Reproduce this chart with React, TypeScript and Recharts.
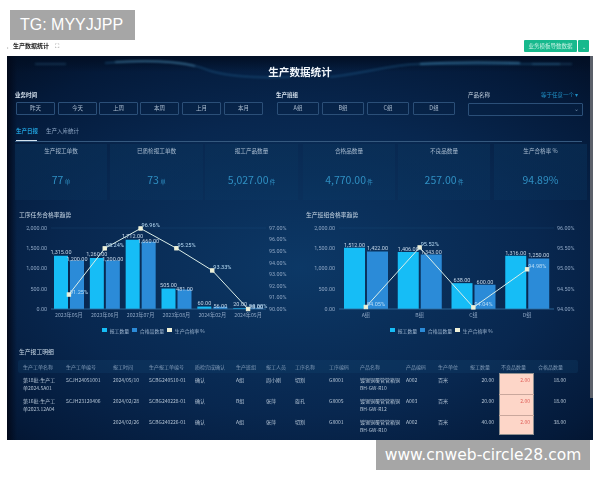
import React from 'react';
import { ComposedChart, Bar, Line, XAxis, YAxis, CartesianGrid, Legend, LabelList } from 'recharts';

const monthCats = ['2023年05月', '2023年06月', '2023年07月', '2023年08月', '2024年02月', '2024年05月'];
const monthReported = [1315, 1260, 1712, 505, 60, 20];
const monthQualified = [1200, 1200, 1660, 481, 56, 18];
const monthRate = [91.25, 95.24, 96.96, 95.25, 93.33, 90.0];

const teamCats = ['A组', 'B组', 'C组', 'D组'];
const teamReported = [1512, 1406, 638, 1316];
const teamQualified = [1422, 1343, 600, 1250];
const teamRate = [94.05, 95.52, 94.04, 94.98];

const leftTicks = [0, 500, 1000, 1500, 2000];
const monthRateTicks = [90, 91, 92, 93, 94, 95, 96, 97];
const teamRateTicks = [94, 94.5, 95, 95.5, 96];

const timeButtons = ['昨天', '今天', '上周', '本周', '上月', '本月'];
const teamButtons = ['A组', 'B组', 'C组', 'D组'];
const kpiTitles = ['生产报工单数', '已质检报工单数', '报工产品数量', '合格品数量', '不良品数量', '生产合格率 %'];
const kpiValues = ['77', '73', '5,027.00', '4,770.00', '257.00', '94.89%'];
const kpiUnits = ['单', '单', '件', '件', '件', ''];
const tableHeaders = ['生产工单名称', '生产工单编号', '报工时间', '生产报工单编号', '质检完成确认', '生产班组', '报工人员', '工序名称', '工序编码', '产品名称', '产品编码', '生产单位', '报工数量', '不良品数量', '合格品数量'];
const tableRow1 = ['第18批-生产工\n单2024.5A01', 'SCJH24051001', '2024/05/10', 'SCBG240510-01', '确认', 'A组', '周小刚', '切割', 'GX001', '镀锡铜覆管管箱铜\nBH-GW-R10', 'A002', '百米', '20.00', '2.00', '18.00'];
const tableRow2 = ['第16批-生产工\n单2023.12A04', 'SCJH23120406', '2024/02/28', 'SCBG240228-01', '确认', 'B组', '张萍', '旋孔', 'GX005', '镀锡铜覆管管箱铜\nBH-GW-R12', 'A003', '百米', '20.00', '2.00', '18.00'];
const tableRow3 = ['', '', '2024/02/26', 'SCBG240226-01', '确认', 'A组', '张萍', '切割', 'GX001', '镀锡铜覆管管箱铜\nBH-GW-R10', 'A002', '百米', '40.00', '2.00', '38.00'];
const tableRows = [tableRow1, tableRow2, tableRow3];

const FONT = '"Noto Sans CJK SC", "Noto Sans", sans-serif';
const money = (v: number) => v.toLocaleString('en-US', { minimumFractionDigits: 2, maximumFractionDigits: 2 });

const colX = [23, 66, 113, 149, 195, 236, 266, 295, 329, 360, 406, 438, 494, 530, 566];
const rowY = [379, 400, 421];

function T({ x, y, size = 6, color = '#b9c9dc', weight = 400, align = 'left', children }: any) {
  const tx = align === 'left' ? '0' : align === 'center' ? '-50%' : '-100%';
  return (
    <div style={{ position: 'absolute', left: x, top: y, transform: `translate(${tx},-50%)`, fontSize: size, color, fontWeight: weight, whiteSpace: 'nowrap', lineHeight: 1, fontFamily: FONT }}>
      {children}
    </div>
  );
}

function Box({ x, y, w, h, style }: any) {
  return <div style={{ position: 'absolute', left: x, top: y, width: w, height: h, boxSizing: 'border-box', ...style }} />;
}

function rateLabel(p: any) {
  return (
    <text x={p.x + 1} y={p.y - 1} fontSize={5.6} fill="#b8dcf5" fontFamily="Roboto, sans-serif">
      {Number(p.value).toFixed(2)}%
    </text>
  );
}

function Dot(p: any) {
  return <rect x={p.cx - 1.7} y={p.cy - 1.7} width={3.4} height={3.4} fill="#eef0d8" stroke="#eef0d8" />;
}

function LegendRow({ payload }: any) {
  return (
    <div style={{ display: 'flex', justifyContent: 'center', alignItems: 'center', height: 8, fontSize: 4.9, fontFamily: FONT, color: '#9fb6d0' }}>
      {(payload || []).map((it: any) => (
        <span key={it.value} style={{ display: 'flex', alignItems: 'center', marginRight: 3 }}>
          <span style={{ width: 4.5, height: 4.5, background: it.color === '#dbeee8' ? '#eef0d8' : it.color, marginRight: 3 }} />
          {it.value}
        </span>
      ))}
    </div>
  );
}

function TrendChart({ data, rateDomain, rateTicks, barSize, left, offsetA, offsetB }: any) {
  const axisTick = { fill: '#8ea6c4', fontSize: 5.4, fontFamily: 'Roboto, sans-serif' };
  return (
    <div style={{ position: 'absolute', left, top: 205 }}>
      <ComposedChart width={290} height={135} data={data} barGap={2} barSize={barSize} margin={{ top: 23, right: 0, bottom: 0, left: 0 }}>
        <CartesianGrid horizontal vertical={false} stroke="#2a5f92" strokeOpacity={0.35} strokeWidth={0.6} />
        <XAxis dataKey="cat" height={17} tickSize={0} tickLine={false} axisLine={{ stroke: '#2f6a9c', strokeWidth: 0.8 }} tick={{ ...axisTick, fontFamily: FONT, fontSize: 5.2 }} interval={0} tickMargin={4} />
        <YAxis yAxisId="l" width={41} domain={[0, 2000]} ticks={leftTicks} tickFormatter={money} tickSize={0} tickLine={false} axisLine={false} tick={axisTick} tickMargin={4} />
        <YAxis yAxisId="r" orientation="right" width={34} domain={rateDomain} ticks={rateTicks} tickFormatter={(v: number) => v.toFixed(2) + '%'} tickSize={0} tickLine={false} axisLine={false} tick={axisTick} tickMargin={3} />
        <Legend verticalAlign="bottom" align="center" height={14} itemSorter={null} content={<LegendRow />} />
        <Bar yAxisId="l" dataKey="reported" name="报工数量" fill="#16bdf6" legendType="square" isAnimationActive={false}>
          <LabelList dataKey="reported" position="top" offset={offsetA} formatter={money} fontSize={5.5} fill="#c4d6e8" fontFamily="Roboto, sans-serif" />
        </Bar>
        <Bar yAxisId="l" dataKey="qualified" name="合格品数量" fill="#2b8bd8" legendType="square" isAnimationActive={false}>
          <LabelList dataKey="qualified" position="top" offset={offsetB} formatter={money} fontSize={5.5} fill="#c4d6e8" fontFamily="Roboto, sans-serif" />
        </Bar>
        <Line yAxisId="r" dataKey="rate" name="生产合格率 %" stroke="#dbeee8" strokeWidth={1} legendType="square" dot={<Dot />} label={rateLabel} isAnimationActive={false} />
      </ComposedChart>
    </div>
  );
}

const monthData = monthCats.map((cat, i) => ({ cat, reported: monthReported[i], qualified: monthQualified[i], rate: monthRate[i] }));
const teamData = teamCats.map((cat, i) => ({ cat, reported: teamReported[i], qualified: teamQualified[i], rate: teamRate[i] }));

const timeX = [16, 58, 99, 140, 182, 224];
const teamX = [277, 322, 367, 413];
const kpiX = [15, 110, 205, 303, 398, 494];
const kpiW = [92, 93, 93, 92, 92, 93];

export default function App() {
  const btn = { border: '0.7px solid #2b4f78', borderRadius: 1, background: 'rgba(8,35,70,0.4)' };
  return (
    <div style={{ position: 'fixed', left: 0, top: 0, width: 600, height: 480, background: '#fff', overflow: 'hidden', fontFamily: FONT }}>
      <div style={{ position: 'absolute', inset: 0, filter: 'blur(0.35px)' }}>
        <T x={7} y={46} size={5} color="#777">‹</T>
        <T x={13} y={46} size={6} color="#222" weight={700}>生产数据统计</T>
        <T x={55} y={46} size={6} color="#777">⛶</T>
        <Box x={524} y={40} w={53} h={12} style={{ background: '#17b98d', borderRadius: 1 }} />
        <Box x={578} y={40} w={11} h={12} style={{ background: '#17b98d', borderRadius: 1 }} />
        <T x={550.5} y={46.5} size={5.5} color="#c8f2e4" align="center">业务模板导数数据</T>
        <T x={583.5} y={46} size={5} color="#fff" align="center">⌄</T>

        <Box x={7} y={56} w={586} h={384} style={{ background: 'radial-gradient(ellipse 75% 70% at 50% 55%, #0c3866 0%, #08274f 55%, #041a3a 85%, #03122a 100%)' }} />
        <Box x={7} y={56} w={586} h={16} style={{ background: 'linear-gradient(180deg,#020f24 0%, rgba(3,18,42,0) 100%)' }} />
        <Box x={7} y={56} w={10} h={384} style={{ background: 'linear-gradient(90deg,#02091a 0%, rgba(3,18,42,0) 100%)' }} />
        <Box x={590} y={56} w={3} h={342} style={{ background: '#5b606a' }} />
        <svg width={600} height={480} style={{ position: 'absolute', left: 0, top: 0, filter: 'blur(0.8px)' }}>
          <path d="M105 63 C 150 60, 185 61, 205 69 C 225 77, 260 78, 290 77" stroke="#2f86bd" strokeWidth={1} fill="none" opacity={0.55} />
          <path d="M115 62 C 150 60, 175 61, 195 66" stroke="#7cc8ef" strokeWidth={1.6} fill="none" opacity={0.35} />
          <path d="M330 77 C 360 74, 395 64, 420 64 L 560 64" stroke="#2f86bd" strokeWidth={1} fill="none" opacity={0.55} />
          <path d="M420 64 C 450 62, 490 62, 520 63" stroke="#5fb8e8" strokeWidth={2.2} fill="none" opacity={0.4} />
          <path d="M35 64 L 66 64" stroke="#59a5d4" strokeWidth={0.7} opacity={0.6} />
          <path d="M532 64 L 572 64" stroke="#59a5d4" strokeWidth={0.7} opacity={0.6} />
        </svg>
        <T x={300} y={72} size={10.6} color="#f1f6fb" weight={700} align="center">生产数据统计</T>

        <T x={15} y={96} size={5.5} color="#d6e2ee" weight={700}>业务时间</T>
        {timeButtons.map((b, i) => (
          <React.Fragment key={b}>
            <Box x={timeX[i]} y={102} w={39} h={13} style={btn} />
            <T x={timeX[i] + 19.5} y={108.5} size={5.5} color="#aebfd2" align="center">{b}</T>
          </React.Fragment>
        ))}
        <T x={276} y={96} size={5.5} color="#d6e2ee" weight={700}>生产班组</T>
        {teamButtons.map((b, i) => (
          <React.Fragment key={b}>
            <Box x={teamX[i]} y={102} w={42} h={13} style={btn} />
            <T x={teamX[i] + 21} y={108.5} size={5.5} color="#aebfd2" align="center">{b}</T>
          </React.Fragment>
        ))}
        <T x={468} y={96} size={5.5} color="#c4d2e0">产品名称</T>
        <T x={541} y={96} size={5.5} color="#1f8ec4">等于任意一个 ▾</T>
        <Box x={468} y={103} w={115} h={13} style={btn} />
        <T x={576} y={109} size={6} color="#6f8aa8" align="center">⌄</T>

        <T x={16} y={132} size={5.5} color="#1f9bd6" weight={700}>生产日报</T>
        <T x={46} y={132} size={5.5} color="#8ea6c4">生产入库统计</T>
        <Box x={15} y={140.5} w={567} h={0.7} style={{ background: '#35597f' }} />
        <Box x={16} y={140} w={21} h={1.3} style={{ background: '#d4e4f0' }} />

        {kpiTitles.map((t, i) => (
          <React.Fragment key={t}>
            <Box x={kpiX[i]} y={144} w={kpiW[i]} h={56} style={{ background: 'linear-gradient(180deg, rgba(10,50,90,0.55), rgba(10,60,105,0.25))' }} />
            <T x={kpiX[i] + kpiW[i] / 2} y={152} size={5.6} color="#a9bcd0" align="center">{t}</T>
            <T x={kpiX[i] + kpiW[i] / 2} y={180} size={10.5} color="#2f8fc2" align="center">
              {kpiValues[i]}
              {kpiUnits[i] ? <span style={{ fontSize: 5.5 }}> {kpiUnits[i]}</span> : null}
            </T>
          </React.Fragment>
        ))}

        <T x={19} y={215} size={5.8} color="#c9d8e6">工序任务合格率趋势</T>
        <T x={306} y={215} size={5.8} color="#c9d8e6">生产班组合格率趋势</T>
        <TrendChart data={monthData} rateDomain={[90, 97]} rateTicks={monthRateTicks} barSize={14} left={10} offsetA={2} offsetB={-1} />
        <TrendChart data={teamData} rateDomain={[94, 96]} rateTicks={teamRateTicks} barSize={21} left={298} offsetA={1} offsetB={1} />

        <T x={19} y={352} size={5.8} color="#c9d8e6">生产报工明细</T>
        <Box x={18} y={360} w={560} h={13} style={{ background: 'rgba(20,70,115,0.25)', borderRadius: 2 }} />
        <Box x={499} y={373} w={35} h={62} style={{ background: '#fdd6c8', border: '0.6px solid #8f8f8f' }} />
        <Box x={499} y={394} w={35} h={0.6} style={{ background: '#c9a79c' }} />
        <Box x={499} y={415} w={35} h={0.6} style={{ background: '#c9a79c' }} />
        {tableHeaders.map((h, c) => (
          <T key={h} x={c >= 12 ? colX[c] - (c === 12 ? 24 : c === 13 ? 29 : 28) : colX[c]} y={366} size={5} color="#7f99b6">{h}</T>
        ))}
        {tableRows.map((row, r) =>
          row.map((cell, c) => {
            const parts = cell.split('\n');
            const isBad = c === 13;
            return parts.map((p, l) => (
              <T key={`${r}-${c}-${l}`} x={colX[c]} y={rowY[r] + l * 8} size={5} align={c >= 12 ? 'right' : 'left'} color={isBad ? '#e0605a' : '#b3c3d4'}>{p}</T>
            ));
          })
        )}
      </div>

      <div style={{ position: 'absolute', left: 10, top: 10, width: 125, height: 30, background: '#a6a6a6', color: '#fff', fontSize: 16, lineHeight: '30px', paddingLeft: 10, boxSizing: 'border-box', fontFamily: '"Liberation Sans", sans-serif' }}>TG: MYYJJPP</div>
      <div style={{ position: 'absolute', left: 376, top: 440, width: 214, height: 30, background: '#a6a6a6', color: '#fff', fontSize: 15.5, lineHeight: '30px', textAlign: 'center', fontFamily: '"DejaVu Sans", sans-serif' }}>www.cnweb-circle28.com</div>
    </div>
  );
}
